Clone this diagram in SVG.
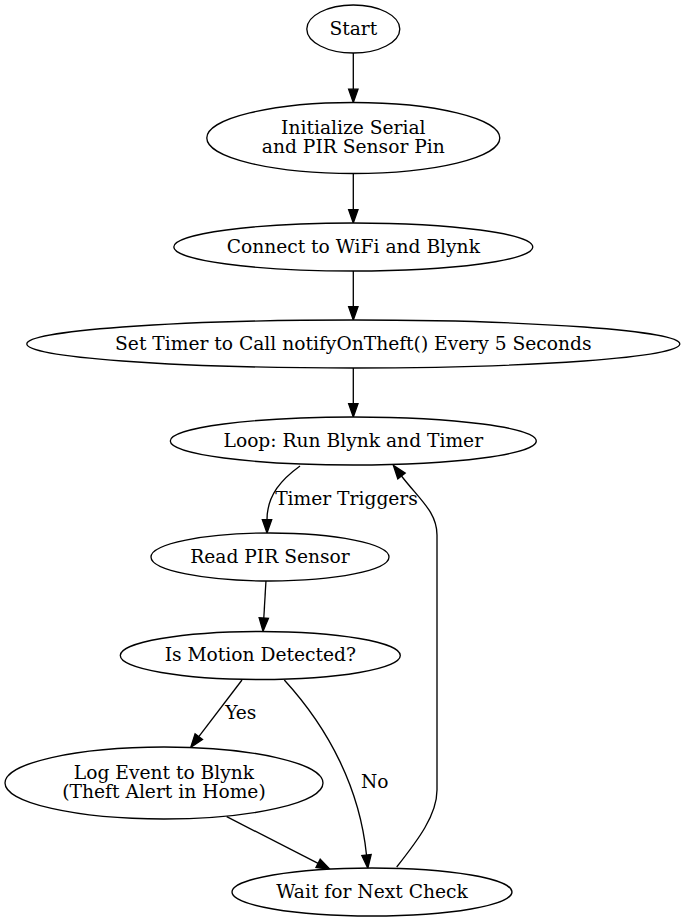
<svg xmlns="http://www.w3.org/2000/svg" width="685" height="922" viewBox="0 0 685 922">
<style>
.node ellipse{fill:#fff;stroke:#000;stroke-width:1.33}
text{font-family:"DejaVu Serif","Liberation Serif",serif;font-size:18.67px;fill:#000;text-anchor:middle}
.edge path{fill:none;stroke:#000;stroke-width:1.33}
</style>
<defs>
<marker id="ah" markerUnits="userSpaceOnUse" markerWidth="16" markerHeight="12" refX="0" refY="0" viewBox="0 -6 16 12" orient="auto" overflow="visible">
<path d="M0,-4.67 L13.33,0 L0,4.67 z" fill="#000" stroke="#000" stroke-width="1.33"/>
</marker>
</defs>
<rect width="685" height="922" fill="#fff"/>
<g id="edges" class="edge">
<path d="M353.3,53 L353.3,89.2" marker-end="url(#ah)"/>
<path d="M353.3,173.5 L353.3,209.7" marker-end="url(#ah)"/>
<path d="M353.3,271 L353.3,306.7" marker-end="url(#ah)"/>
<path d="M353.3,368 L353.3,403.7" marker-end="url(#ah)"/>
<path d="M300,466 C282,479 267,495 267,519.7" marker-end="url(#ah)"/>
<text x="346.5" y="505">Timer Triggers</text>
<path d="M266,580 L263.8,618" marker-end="url(#ah)"/>
<path d="M242,680 L198.8,736.7" marker-end="url(#ah)"/>
<text x="240.8" y="719">Yes</text>
<path d="M284.3,680 C330,730 360,790 366.5,855" marker-end="url(#ah)"/>
<text x="374.7" y="787.7">No</text>
<path d="M226.7,816.7 L318.1,863.3" marker-end="url(#ah)"/>
<path d="M396.7,867 C418,840 437,815 437,790 L437,535 C437,512 420,500 401.5,476" marker-end="url(#ah)"/>
</g>
<g id="start" class="node"><ellipse cx="353.3" cy="29" rx="46.5" ry="24"/><text x="353.3" y="34.6">Start</text></g>
<g id="init" class="node"><ellipse cx="353.3" cy="138" rx="146.5" ry="35.5"/><text x="353.3" y="134">Initialize Serial</text><text x="353.3" y="153.2">and PIR Sensor Pin</text></g>
<g id="connect" class="node"><ellipse cx="353.3" cy="247" rx="179.5" ry="24"/><text x="353.3" y="252.6">Connect to WiFi and Blynk</text></g>
<g id="settimer" class="node"><ellipse cx="353.3" cy="344" rx="326.5" ry="24"/><text x="353.3" y="349.6">Set Timer to Call notifyOnTheft() Every 5 Seconds</text></g>
<g id="loop" class="node"><ellipse cx="353.3" cy="441" rx="183" ry="24"/><text x="353.3" y="446.6">Loop: Run Blynk and Timer</text></g>
<g id="readpir" class="node"><ellipse cx="270" cy="557" rx="119" ry="24"/><text x="270" y="562.6">Read PIR Sensor</text></g>
<g id="motion" class="node"><ellipse cx="260.3" cy="655.5" rx="140" ry="24"/><text x="260.3" y="661.1">Is Motion Detected?</text></g>
<g id="log" class="node"><ellipse cx="164" cy="783" rx="159" ry="36"/><text x="164" y="779">Log Event to Blynk</text><text x="164" y="798.2">(Theft Alert in Home)</text></g>
<g id="wait" class="node"><ellipse cx="372" cy="892" rx="140" ry="24"/><text x="372" y="897.6">Wait for Next Check</text></g>
</svg>
